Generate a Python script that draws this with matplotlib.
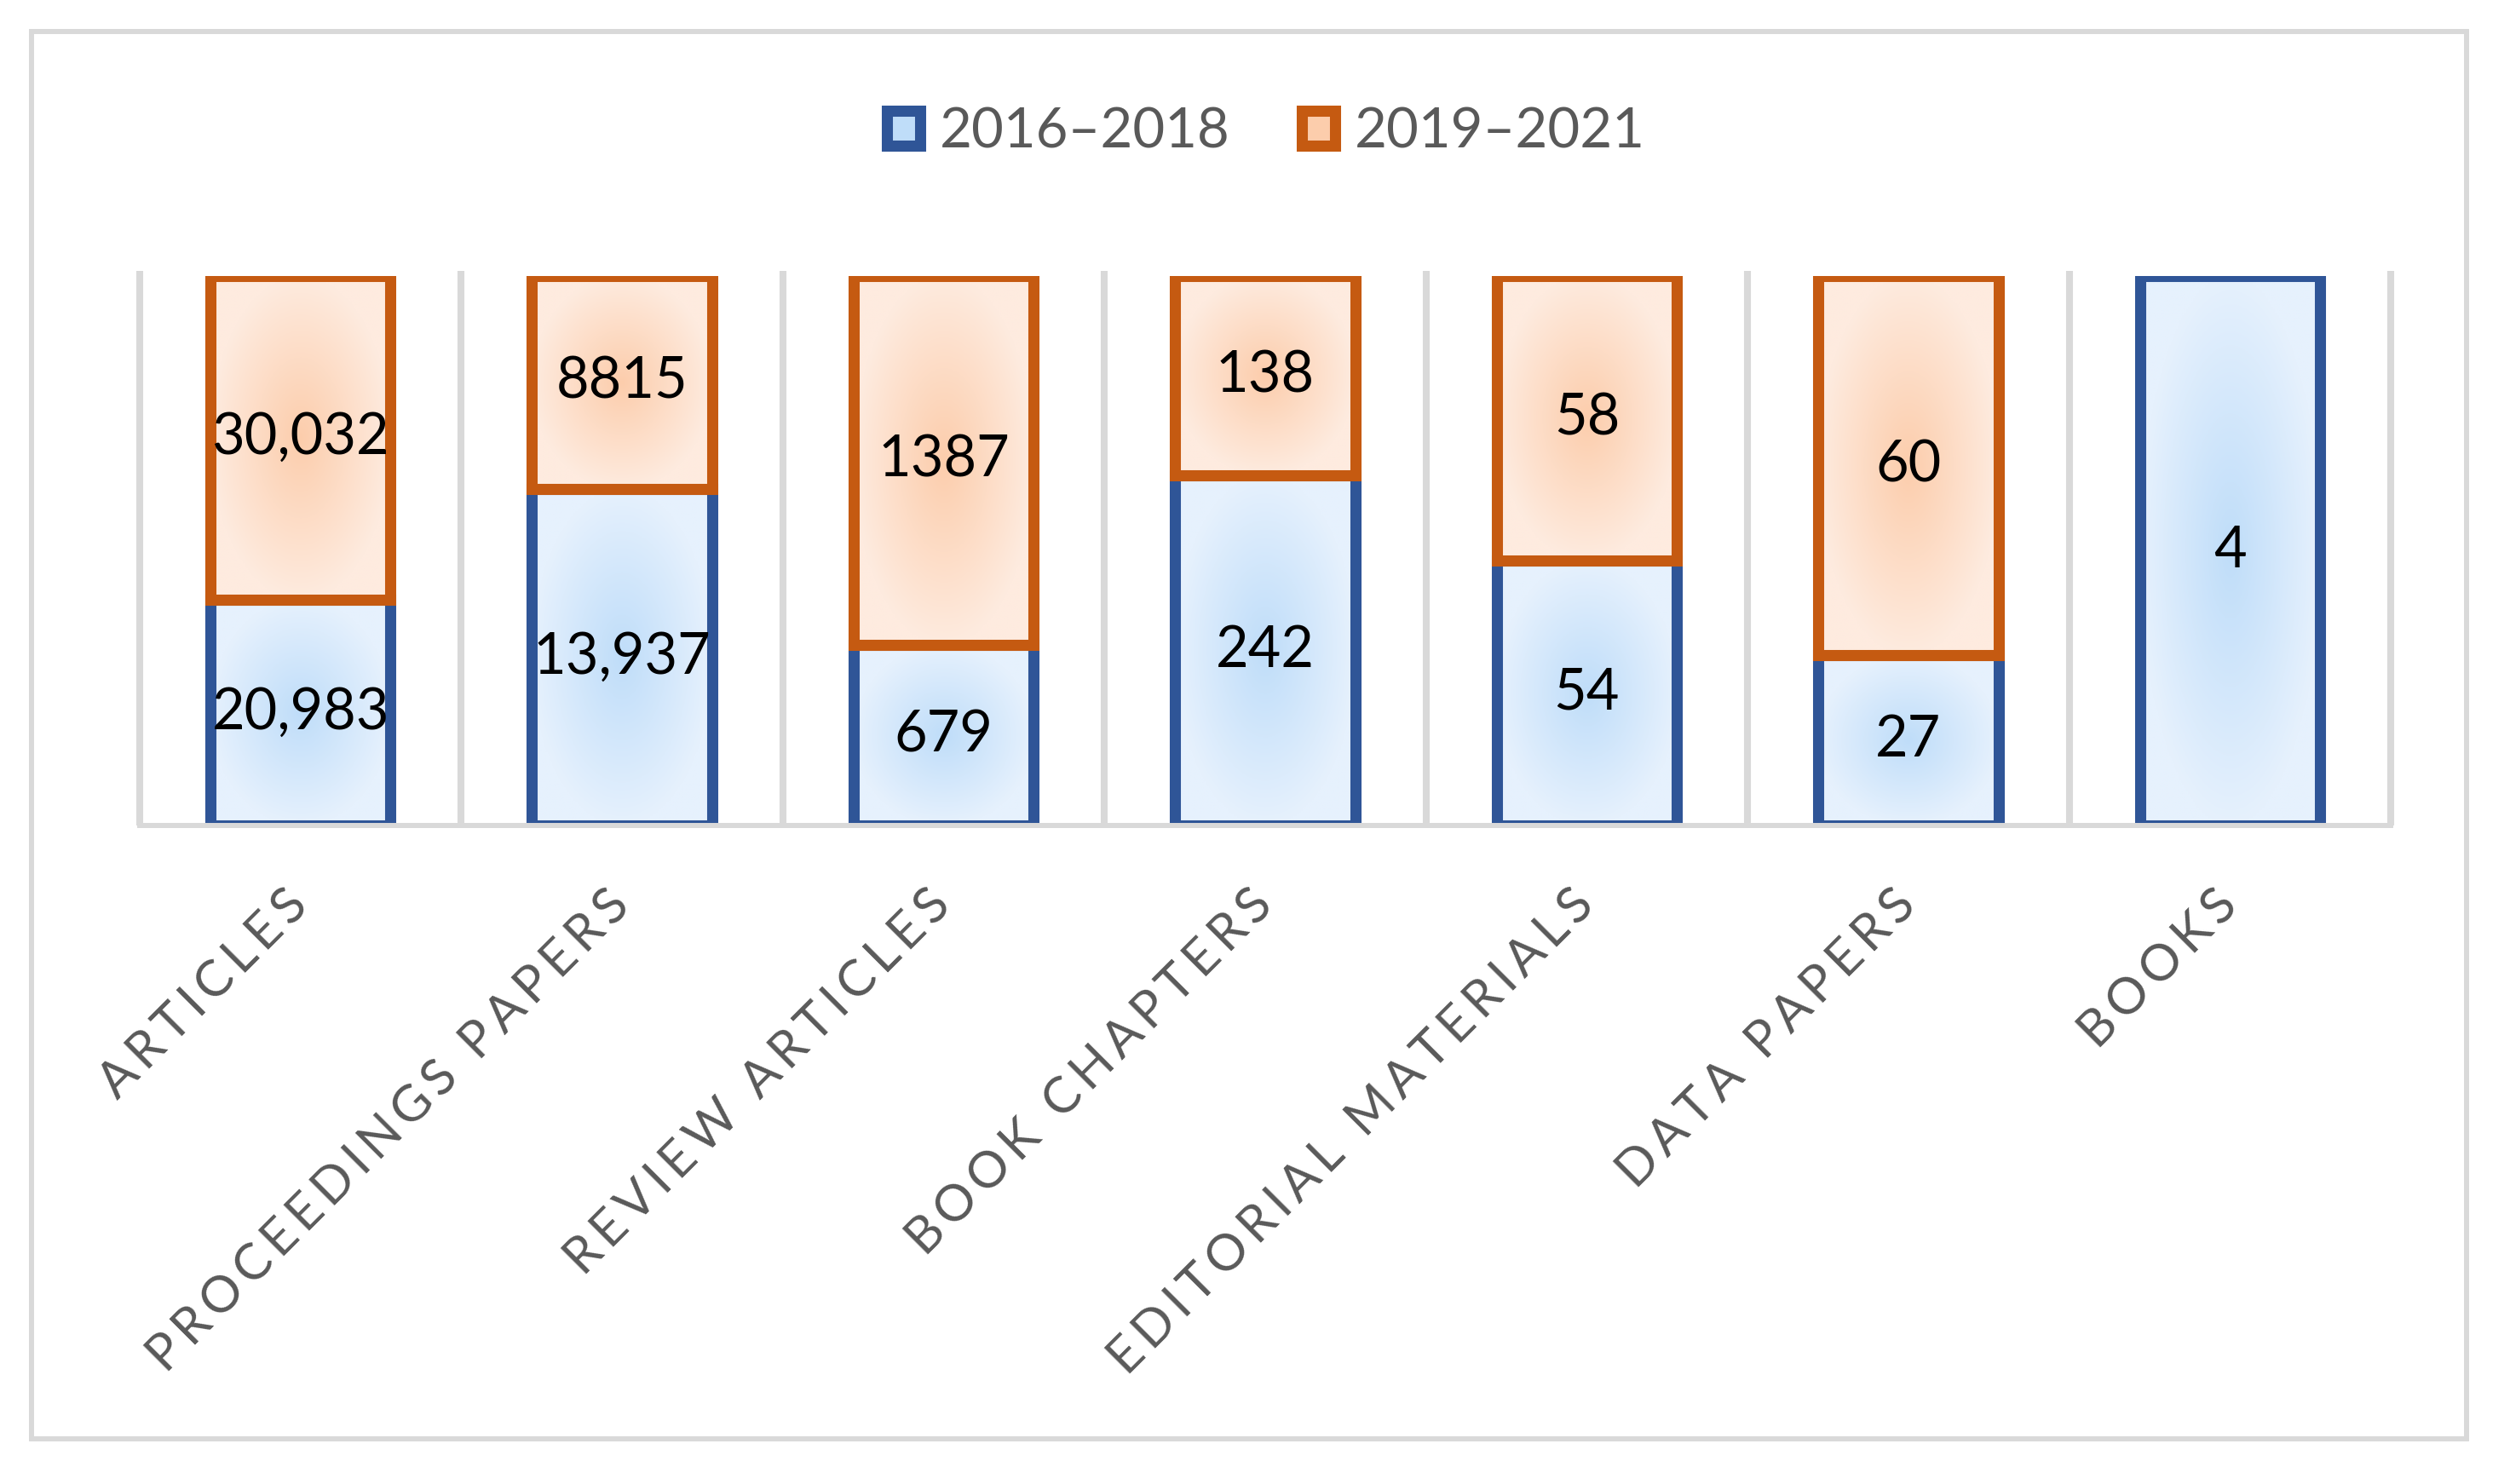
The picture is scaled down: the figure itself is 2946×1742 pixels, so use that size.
import numpy as np
import matplotlib
matplotlib.use("Agg")
import matplotlib.pyplot as plt
from matplotlib.colors import to_rgb
from matplotlib.patches import Rectangle, Patch

plt.rcParams['font.family'] = ['Lato', 'DejaVu Sans']

categories = ["Articles", "Proceedings papers", "Review articles", "Book chapters",
              "Editorial materials", "Data papers", "Books"]
series_names = ["2016\u20132018", "2019\u20132021"]
values_1618 = [20983, 13937, 679, 242, 54, 27, 4]
values_1921 = [30032, 8815, 1387, 138, 58, 60, 0]

BLUE_EDGE = "#2F5597"
BLUE_IN = "#BFDDF9"
BLUE_OUT = "#E6F1FD"
ORANGE_EDGE = "#C55A11"
ORANGE_IN = "#FCCDAC"
ORANGE_OUT = "#FEEBDF"
GRID = "#D9D9D9"
TEXT = "#595959"


def radial(c_in, c_out, n=200):
    u = np.linspace(-1, 1, n)
    U, V = np.meshgrid(u, u)
    t = np.clip(np.sqrt(U ** 2 + V ** 2), 0, 1)[..., None]
    a, b = np.array(to_rgb(c_in)), np.array(to_rgb(c_out))
    return a * (1 - t) + b * t


def fmt(v):
    return f"{v:,}" if v >= 10000 else str(v)


def spaced(s):
    return "\u2009".join(s.upper())


fig = plt.figure(figsize=(29.46, 17.42), dpi=100)
ax = fig.add_axes([164 / 2946, 1 - 969 / 1742, (2806 - 164) / 2946, 645 / 1742])

x = np.arange(len(categories))
tot = np.array(values_1618) + np.array(values_1921)
p1 = np.array(values_1618) / tot
p2 = np.array(values_1921) / tot
width = 0.56
lw = 9.4

g_blue = radial(BLUE_IN, BLUE_OUT)
g_orange = radial(ORANGE_IN, ORANGE_OUT)

bars1 = ax.bar(x, p1, width, facecolor="none", edgecolor=BLUE_EDGE, linewidth=lw, zorder=2)
for i, b in enumerate(bars1):
    im = ax.imshow(g_blue, extent=(x[i] - width / 2, x[i] + width / 2, 0, p1[i]),
                   aspect="auto", zorder=1.5, interpolation="bilinear")
    im.set_clip_path(b)
    ax.text(x[i], p1[i] / 2, fmt(values_1618[i]), ha="center", va="center",
            fontsize=48, color="black", zorder=6)

for i in range(len(categories)):
    if values_1921[i] == 0:
        continue
    b = ax.bar(x[i], p2[i], width, bottom=p1[i], facecolor="none",
               edgecolor=ORANGE_EDGE, linewidth=lw, zorder=3)[0]
    im = ax.imshow(g_orange, extent=(x[i] - width / 2, x[i] + width / 2, p1[i], 1),
                   aspect="auto", zorder=2.5, interpolation="bilinear")
    im.set_clip_path(b)
    ax.text(x[i], p1[i] + p2[i] / 2, fmt(values_1921[i]), ha="center", va="center",
            fontsize=48, color="black", zorder=6)

# vertical gridlines between categories
ax.vlines(np.arange(len(categories) + 1) - 0.5, 0, 1.01, color=GRID, linewidth=5.8,
          zorder=0, clip_on=False)
ax.axhline(0, color=GRID, linewidth=4.3, zorder=4, clip_on=False)

ax.set_xlim(-0.5, len(categories) - 0.5)
ax.set_ylim(0, 1)
for s in ax.spines.values():
    s.set_visible(False)
ax.set_xticks([])
ax.set_yticks([])

trans = matplotlib.transforms.blended_transform_factory(ax.transData, ax.transAxes)
for i, c in enumerate(categories):
    ax.text(x[i] + 0.03, -0.15, spaced(c), transform=trans, rotation=45,
            rotation_mode="anchor", ha="right", va="baseline", fontsize=43, color=TEXT)

handles = [Patch(facecolor=BLUE_IN, edgecolor=BLUE_EDGE, linewidth=lw, joinstyle="round"),
           Patch(facecolor=ORANGE_IN, edgecolor=ORANGE_EDGE, linewidth=lw, joinstyle="round")]
fig.legend(handles, series_names, loc="center", bbox_to_anchor=(1486 / 2946, 0.911),
           ncol=2, frameon=False, fontsize=47, labelcolor=TEXT, handlelength=0.6,
           handleheight=0.6, handletextpad=0.35, columnspacing=1.3)

fig.add_artist(Rectangle((37 / 2946, 1 - 1689 / 1742), (2895 - 37) / 2946, (1689 - 37) / 1742,
                         transform=fig.transFigure, facecolor="none", edgecolor=GRID,
                         linewidth=4.3))

fig.savefig("out.png", dpi=100, facecolor="white")
